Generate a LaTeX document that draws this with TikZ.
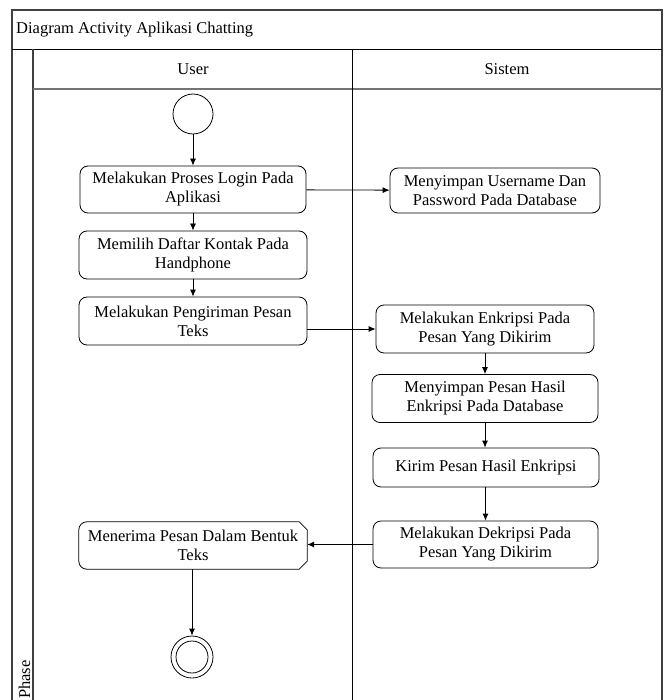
\documentclass[tikz,border=0pt]{standalone}
\usepackage{fontspec}
\setmainfont{Liberation Serif}
\usetikzlibrary{arrows.meta}
\tikzset{
  frameline/.style={draw=black!75, line width=1.6pt},
  innerline/.style={draw=black, line width=0.9pt},
  grayline/.style={draw=black!55, line width=1.6pt},
  actbox/.style={draw, rounded corners=8pt, line width=0.8pt, align=center, inner sep=0pt, font=\fontsize{16.5}{19}\selectfont},
  plainbox/.style={align=center, inner sep=0pt, font=\fontsize{16.5}{19}\selectfont},
  flow/.style={-{Latex[length=7pt,width=6pt]}, line width=0.8pt},
  lbl/.style={font=\fontsize{16.5}{19}\selectfont, inner sep=0pt}
}
\begin{document}
\begin{tikzpicture}[x=1pt,y=1pt]
\useasboundingbox (0,0) rectangle (665,-700);
\fill[white] (0,0) rectangle (665,-700);
% frame
\draw[frameline] (12,-706) -- (12,-10) -- (662,-10) -- (662,-706);
\draw[innerline] (12,-49) -- (662,-49);
\draw[frameline] (33,-49) -- (33,-706);
\draw[grayline] (33,-89) -- (662,-89);
\draw[innerline] (352,-49) -- (352,-706);
% labels
\node[lbl, anchor=west] (title) at (16,-30) {Diagram Activity Aplikasi Chatting};
\node[lbl] (user) at (193,-69) {User};
\node[lbl] (sistem) at (507,-69) {Sistem};
\node[lbl, rotate=90, anchor=west] (phase) at (24.5,-699) {Phase};
% nodes
\node[draw, circle, minimum size=40pt, inner sep=0pt, line width=0.8pt] (start) at (193,-114) {};
\node[actbox, minimum width=226pt, minimum height=47pt] (login) at (193,-189.5) {Melakukan Proses Login Pada\\Aplikasi};
\node[actbox, minimum width=210pt, minimum height=45pt] (username) at (495,-190.5) {Menyimpan Username Dan\\Password Pada Database};
\node[actbox, minimum width=228pt, minimum height=48pt] (memilih) at (193,-255) {Memilih Daftar Kontak Pada\\Handphone};
\node[actbox, minimum width=228pt, minimum height=48pt] (kirimpesan) at (193,-321) {Melakukan Pengiriman Pesan\\Teks};
\node[actbox, minimum width=218pt, minimum height=48pt] (enkripsi) at (485,-329) {Melakukan Enkripsi Pada\\Pesan Yang Dikirim};
\node[actbox, minimum width=226pt, minimum height=48pt] (simpan) at (485,-398.5) {Menyimpan Pesan Hasil\\Enkripsi Pada Database};
\node[actbox, minimum width=226pt, minimum height=39pt] (kirim) at (486,-467.5) {Kirim Pesan Hasil Enkripsi};
\node[actbox, minimum width=225pt, minimum height=47pt] (dekripsi) at (485.5,-544.5) {Melakukan Dekripsi Pada\\Pesan Yang Dikirim};
\node[plainbox, minimum width=228pt, minimum height=47pt] (terima) at (193,-545.5) {Menerima Pesan Dalam Bentuk\\Teks};
\draw[line width=0.8pt] ([xshift=-8pt]terima.north east) -- ([xshift=8pt]terima.north west)
  arc[start angle=90, end angle=180, radius=8pt] -- ([yshift=8pt]terima.south west)
  arc[start angle=180, end angle=270, radius=8pt] -- ([xshift=-8pt]terima.south east)
  -- ([yshift=8pt]terima.south east) -- ([yshift=-8pt]terima.north east) -- cycle;
\node[draw, circle, minimum size=42pt, inner sep=0pt, line width=0.8pt] (end) at (192,-657) {};
\node[draw, circle, minimum size=32pt, inner sep=0pt, line width=0.8pt] (endin) at (end.center) {};
% connectors
\draw[flow] (start) -- (login);
\draw[flow] (login) -- (username);
\draw[flow] (login) -- (memilih);
\draw[flow] (memilih) -- (kirimpesan);
\draw[flow] (kirimpesan.east |- enkripsi.west) -- (enkripsi.west);
\draw[flow] (enkripsi.south -| simpan.north) -- (simpan.north);
\draw[flow] (simpan) -- (simpan.south |- kirim.north);
\draw[flow] (kirim.south -| dekripsi.north) -- (dekripsi.north);
\draw[flow] (dekripsi.west) -- (terima.east |- dekripsi.west);
\draw[flow] (terima.south -| end.north) -- (end.north);
\end{tikzpicture}
\end{document}
